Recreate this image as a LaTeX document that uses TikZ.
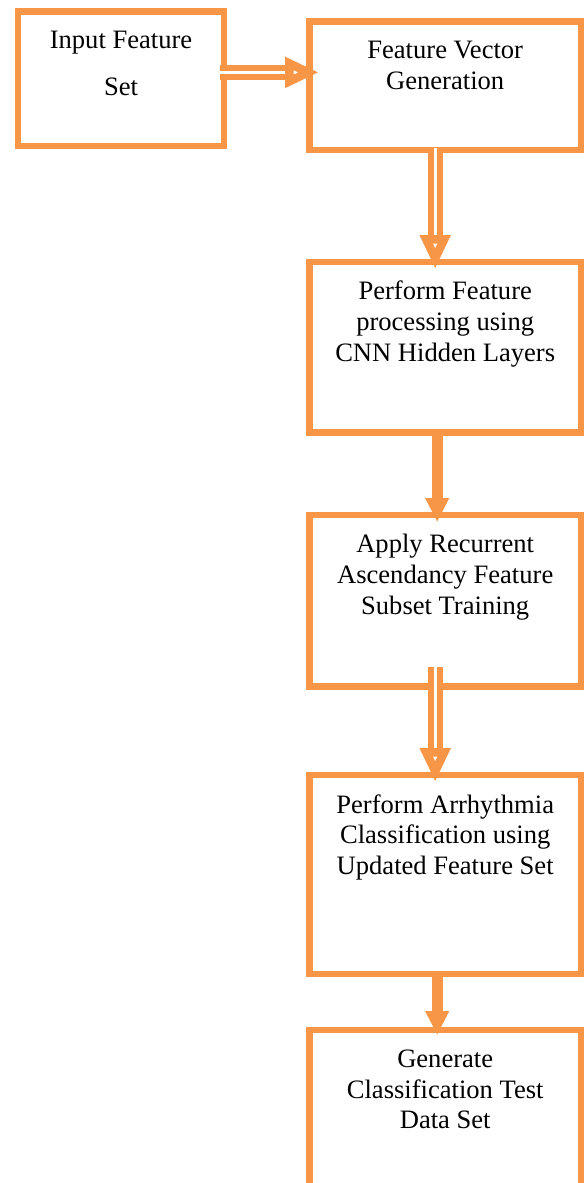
\documentclass[tikz,border=0pt]{standalone}
\usepackage{fontspec}
\setmainfont{Liberation Serif}
\usetikzlibrary{arrows.meta,positioning}
\definecolor{boxorange}{RGB}{247,150,70}
\tikzset{
    stage/.style={draw=boxorange,line width=0.16cm,inner sep=0pt,outer sep=0pt,minimum width=6.79cm},
    stagetext/.style={align=center,inner sep=0pt,font=\fontsize{18.9}{22}\selectfont},
    hollowarrow/.style={draw=boxorange,line width=0.15cm,double=white,double distance=0.08cm,
        -{Triangle[open,fill=white,length=0.85cm,width=0.72cm,line width=0.28cm]}},
    solidarrow/.style={draw=boxorange,line width=0.275cm,-{Triangle[length=0.6cm,width=0.56cm]}}
}

\begin{document}
\begin{tikzpicture}
        \useasboundingbox (0,0) rectangle (14.6,-29.575);
        \clip (0,0) rectangle (14.6,-29.575);
        \node[stage,minimum width=5.15cm,minimum height=3.36cm] (inp) at (3.025,-1.97) {};
        \node[stage,minimum height=3.21cm] (fvg) at (11.13,-2.14) {};
        \node[stage,minimum height=4.27cm] (cnn) at (11.13,-8.68) {};
        \node[stage,minimum height=4.29cm] (rasf) at (11.13,-15.02) {};
        \node[stage,minimum height=4.98cm] (arc) at (11.13,-21.86) {};
        \node[stage,minimum height=4.5cm] (gen) at (11.13,-28.0) {};
        \node[stagetext,below=0.48cm of inp.north] (inp-text) {Input Feature\\[0.39cm]Set};
        \node[stagetext,below=0.48cm of fvg.north] (fvg-text) {Feature Vector\\Generation};
        \node[stagetext,below=0.48cm of cnn.north] (cnn-text) {Perform Feature\\processing using\\CNN Hidden Layers};
        \node[stagetext,below=0.48cm of rasf.north] (rasf-text) {Apply Recurrent\\Ascendancy Feature\\Subset Training};
        \node[stagetext,below=0.48cm of arc.north] (arc-text) {Perform Arrhythmia\\Classification using\\Updated Feature Set};
        \node[stagetext,below=0.48cm of gen.north] (gen-text) {Generate\\Classification Test\\Data Set};
        \draw[hollowarrow] ([xshift=-0.1cm,yshift=0.16cm]inp.east) -- ([xshift=0.24cm,yshift=0.33cm]fvg.west);
        \draw[hollowarrow] ([xshift=-0.25cm,yshift=0.05cm]fvg.south) -- ([xshift=-0.25cm,yshift=-0.18cm]cnn.north);
        \draw[solidarrow] ([xshift=-0.2cm]cnn.south) -- ([xshift=-0.2cm,yshift=-0.175cm]rasf.north);
        \draw[hollowarrow] ([xshift=-0.25cm,yshift=0.49cm]rasf.south) -- ([xshift=-0.25cm,yshift=-0.18cm]arc.north);
        \draw[solidarrow] ([xshift=-0.2cm]arc.south) -- ([xshift=-0.2cm,yshift=-0.125cm]gen.north);
    \end{tikzpicture}
\end{document}
